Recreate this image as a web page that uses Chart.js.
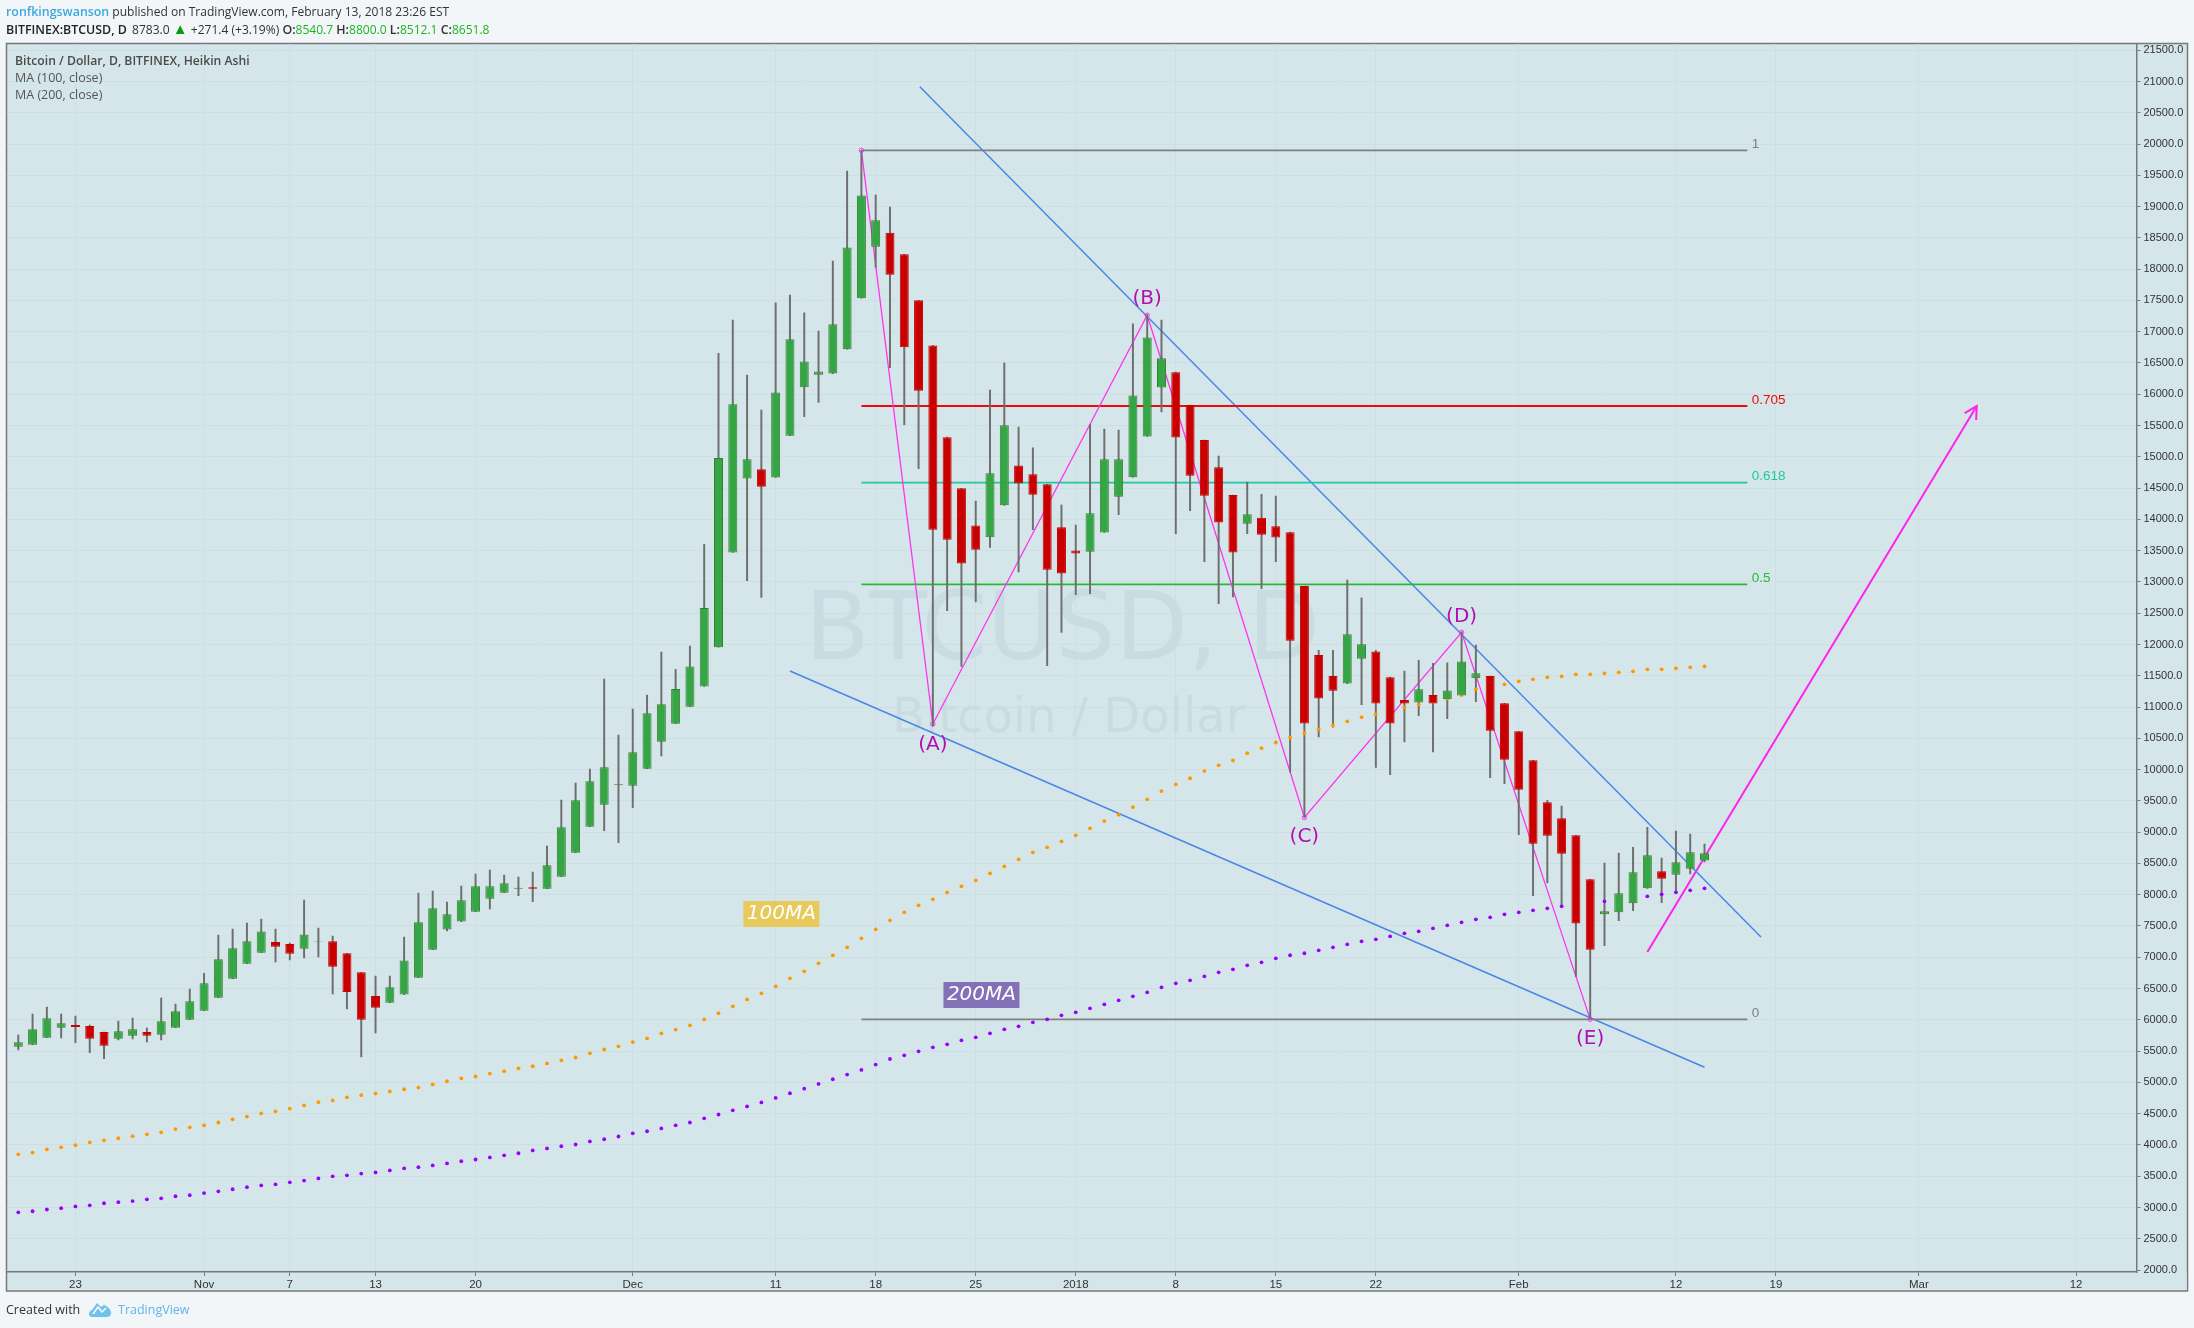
<!DOCTYPE html>
<html>
<head>
<meta charset="utf-8">
<title>BTCUSD</title>
<script src="https://cdn.jsdelivr.net/npm/chart.js@4/dist/chart.umd.js"></script>
<style>
  html, body { margin: 0; padding: 0; background: #f2f6f9; }
  body { width: 2194px; height: 1328px; position: relative; overflow: hidden; font-family: "Open Sans", sans-serif; }
  canvas { position: absolute; left: 0; top: 0; }
  .txt { position: absolute; white-space: pre; font-size: 12.05px; line-height: 16px; color: #333; }
  .up { color: #1fb51f; }
  b { font-weight: 600; font-size: 12.4px; }
</style>
</head>
<body>
<canvas id="chart" width="2194" height="1328"></canvas>

<div class="txt" style="left:6px;top:4px"><span style="color:#3ba9de;font-weight:600;font-size:12.4px">ronfkingswanson</span> published on TradingView.com, February 13, 2018 23:26 EST</div>
<div class="txt" style="left:6px;top:22px"><b style="color:#222">BITFINEX:BTCUSD, D</b> <span style="margin-left:2px">8783.0</span> <span style="color:#0a9a0a;font-size:15px;line-height:12px">▲</span> +271.4 (+3.19%) <b>O:</b><span class="up">8540.7</span> <b>H:</b><span class="up">8800.0</span> <b>L:</b><span class="up">8512.1</span> <b>C:</b><span class="up">8651.8</span></div>
<div class="txt" style="left:15px;top:53px;color:#4a4a4a;font-weight:600;font-size:12.2px">Bitcoin / Dollar, D, BITFINEX, Heikin Ashi</div>
<div class="txt" style="left:15px;top:70px;color:#555;font-size:12.5px">MA (100, close)</div>
<div class="txt" style="left:15px;top:87px;color:#555;font-size:12.5px">MA (200, close)</div>

<div class="txt" style="left:6px;top:1302px;color:#333;font-size:12.5px">Created with</div>
<svg style="position:absolute;left:88px;top:1302px" width="24" height="15" viewBox="0 0 24 15">
  <path d="M4 15 C0 15 0 9 4 8 L9 1 L13 5 L16 3 C20 4 24 9 23 12 C22 15 20 15 18 15 Z" fill="#6fc3ea"/>
  <path d="M5 12 L10 5 L14 10 L18 6" fill="none" stroke="#fff" stroke-width="1.4"/>
</svg>
<div class="txt" style="left:118px;top:1302px;color:#5db6e6;font-size:12.5px">TradingView</div>

<script>
// Daily Heikin Ashi candles, first one is 19 Oct 2017, last one is 14 Feb 2018
const opens = [5571,5603,5715,5875,5917,5901,5805,5699,5747,5805,5763,5875,6003,6146,6354,6658,6898,7073,7244,7212,
  7137,7249,7255,7063,6759,6381,6274,6403,6672,7122,7442,7570,7729,7937,8033,8097,8118,8097,8288,8672,
  9088,9439,9748,9743,10015,10446,10734,11006,11329,11957,13470,14652,14800,14669,15337,16114,16313,16330,16719,17535,
  18357,18580,18237,17501,16781,15314,14498,13904,13716,14224,14863,14721,14561,13875,13504,13481,13790,14361,14675,15325,
  16108,16353,15828,15268,14834,14389,13932,14024,13892,13795,12933,11832,11495,11375,11774,11889,11478,11112,11072,11192,
  11124,11186,11460,11495,11059,10612,10148,9477,9221,8949,8246,7687,7719,7863,8102,8374,8321,8417,8545];
const highs = [5757,6093,6205,6093,6061,5917,5805,5981,6029,5869,6349,6253,6493,6743,7356,7452,7548,7612,7452,7228,
  7915,7468,7340,7063,6759,6700,6700,7324,8028,8060,7884,8140,8331,8395,8315,8283,8363,8779,9514,9786,
  10010,11448,10553,10969,11192,11880,11603,11974,13602,16656,17187,16308,15748,17461,17586,17301,17010,18129,19567,19899,
  19185,18991,18237,17501,16781,15314,14498,14292,16068,16502,15474,15143,14561,14229,13910,15514,15445,15428,17124,17272,
  17187,16353,15828,15268,15011,14389,14595,14401,14372,13795,12933,11906,11906,13030,12745,11906,11478,11575,11746,11700,
  11706,12203,11991,11495,11059,10612,10148,9509,9418,8949,8246,8507,8667,8758,9077,8587,9019,8971,8811];
const lows = [5518,5603,5715,5709,5635,5475,5379,5678,5694,5646,5678,5875,6003,6146,6354,6658,6898,7073,6924,6956,
  6988,7004,6413,6173,5406,5789,6274,6403,6672,7122,7420,7570,7729,7772,8033,7985,7889,8097,8288,8672,
  9088,9024,8832,9392,10015,10217,10734,11006,11329,11957,13470,13019,12751,14669,15337,15640,15868,16330,16719,17535,
  18026,16427,15514,14812,10700,12540,11650,12682,13550,14224,13162,13836,11660,12191,12796,12814,13790,14075,14675,15325,
  15719,13773,14138,13322,12654,12762,13773,12893,13322,9959,9234,10524,10678,11375,11038,10033,9919,10444,10861,10284,
  10815,11186,11084,9873,9775,8960,7985,8188,7815,6690,6024,7186,7585,7745,8102,7873,8060,8331,8523];
const closes = [5640,5848,6024,5944,5885,5699,5587,5816,5848,5747,5976,6136,6296,6583,6967,7143,7255,7414,7169,7057,
  7366,7255,6850,6445,6003,6194,6519,6950,7559,7783,7687,7911,8134,8134,8182,8113,8097,8470,9077,9509,
  9812,10036,9765,10276,10899,11043,11289,11649,12585,14983,15839,14960,14521,16028,16879,16525,16365,17118,18346,19179,
  18780,17912,16753,16056,13836,13676,13293,13516,14738,15503,14572,14395,13196,13133,13453,14098,14960,14960,15982,16907,
  16576,15308,14697,14378,13950,13470,14081,13755,13710,12060,10735,11135,11261,12163,12003,11055,10735,11055,11283,11055,
  11266,11729,11540,10621,10159,9679,8816,8944,8656,7538,7122,7735,8022,8358,8630,8257,8518,8678,8662];

const ma100 = [3850,3878,3929,3962,3996,4040,4074,4107,4141,4169,4202,4253,4281,4314,4359,4409,4454,4504,4538,4582,
  4633,4683,4711,4761,4795,4822,4856,4890,4917,4968,5018,5063,5096,5141,5180,5225,5258,5303,5353,5398,
  5465,5526,5577,5644,5705,5783,5845,5912,6007,6107,6214,6327,6423,6535,6663,6775,6903,7031,7159,7303,
  7446,7590,7718,7830,7926,8038,8134,8230,8341,8453,8565,8677,8757,8853,8949,9061,9177,9280,9399,9525,
  9656,9765,9862,9976,10068,10147,10262,10342,10433,10513,10581,10644,10707,10770,10838,10884,10935,10995,11043,11086,
  11134,11192,11283,11326,11363,11411,11443,11475,11491,11523,11523,11539,11555,11571,11603,11603,11619,11635,11651];
const ma200 = [2923,2940,2968,2990,3018,3035,3068,3085,3102,3130,3146,3180,3197,3230,3258,3292,3325,3353,3370,3403,
  3431,3465,3498,3515,3543,3560,3593,3627,3644,3672,3705,3739,3767,3800,3834,3867,3912,3945,3979,4007,
  4057,4091,4135,4186,4219,4264,4314,4359,4426,4487,4554,4616,4680,4752,4826,4900,4975,5050,5125,5200,
  5285,5374,5432,5496,5560,5608,5672,5720,5784,5848,5896,5960,6008,6072,6120,6184,6248,6312,6376,6440,
  6520,6584,6632,6696,6760,6808,6872,6920,6984,7032,7064,7111,7159,7207,7255,7287,7335,7383,7415,7463,
  7511,7559,7607,7639,7687,7719,7751,7783,7815,7836,7862,7895,7921,7948,7974,8006,8038,8070,8102];

// axes
const priceTicks = [2000,2500,3000,3500,4000,4500,5000,5500,6000,6500,7000,7500,8000,8500,9000,9500,10000,10500,11000,
  11500,12000,12500,13000,13500,14000,14500,15000,15500,16000,16500,17000,17500,18000,18500,19000,19500,20000,20500,21000,21500];
const dayTicks = [4,13,19,25,32,43,53,60,67,74,81,88,95,105,116,123,133,144];
const dayLabels = ["23","Nov","7","13","20","Dec","11","18","25","2018","8","15","22","Feb","12","19","Mar","12"];

// drawings on the chart
const waveDays = [59,64,79,90,101,110];
const wavePrices = [19899,10730,17263,9234,12195,6008];
const waveNames = ["(A)","(B)","(C)","(D)","(E)"];
const waveNameDays = [64,79,90,101,110];
const waveNamePrices = [10393,17522,8922,12444,5698];

const fibNames = ["1","0.705","0.618","0.5","0"];
const fibLevels = [19899,15812,14589,12962,6008];
const fibColors = ["#808080","#f00a0a","#20c8a0","#22bb33","#808080"];
const fibDays = [59,121];

const upperTrendDays = [63.09,121.95];
const upperTrendPrices = [20915,7324];
const lowerTrendDays = [54,118];
const lowerTrendPrices = [11576,5241];
const arrowDays = [114,137.05];
const arrowPrices = [7084,15812];

const PANEL = "#d5e6ea";
const LINE = "#787878";
const GRID = "#cddfe3";
const WATERMARK = "#c8dce1";
const days = opens.map((v, i) => i);

function pts(xs, ys) {
    return xs.map((x, i) => ({ x: x, y: ys[i] }));
}

function straight(xs, ys, color, width) {
    return {
        type: "line",
        data: pts(xs, ys),
        borderColor: color,
        borderWidth: width,
        pointRadius: 0,
        tension: 0,
        order: 5,
    };
}

// Panel, watermark and the text that sits on the scales
const decorations = {
    id: "decorations",
    beforeDraw(c) {
        const g = c.ctx;
        g.save();
        g.fillStyle = PANEL;
        g.strokeStyle = LINE;
        g.lineWidth = 1.5;
        g.fillRect(6.5, 43.5, 2181, 1247.5);
        g.strokeRect(6.5, 43.5, 2181, 1247.5);
        g.restore();
    },
    beforeDatasetsDraw(c) {
        const g = c.ctx;
        g.save();
        g.fillStyle = WATERMARK;
        g.textBaseline = "alphabetic";
        g.textAlign = "left";
        g.font = '94px "DejaVu Sans"';
        g.fillText("BTCUSD, D", 805, 659);
        g.font = '48px "DejaVu Sans"';
        g.fillText("Bitcoin / Dollar", 892, 732);
        g.restore();
    },
    afterDatasetsDraw(c) {
        const g = c.ctx;
        const x = c.scales.x;
        const y = c.scales.y;
        g.save();

        // wave names
        g.fillStyle = "#b010b0";
        g.textAlign = "center";
        g.textBaseline = "middle";
        g.font = '20px "DejaVu Sans"';
        waveNames.forEach((n, i) => {
            g.fillText(n, x.getPixelForValue(waveNameDays[i]), y.getPixelForValue(waveNamePrices[i]));
        });

        // fib level names
        g.textAlign = "left";
        g.font = '13.5px "Liberation Sans"';
        fibNames.forEach((n, i) => {
            g.fillStyle = fibColors[i];
            g.fillText(n, x.getPixelForValue(121.3), y.getPixelForValue(fibLevels[i]) - 6);
        });

        // 100MA / 200MA tags
        tag(g, "100MA", "#e8c95c", x.getPixelForValue(53.4), y.getPixelForValue(7692));
        tag(g, "200MA", "#8370b7", x.getPixelForValue(67.4), y.getPixelForValue(6397));

        // arrow head
        const x0 = x.getPixelForValue(arrowDays[0]);
        const y0 = y.getPixelForValue(arrowPrices[0]);
        const x1 = x.getPixelForValue(arrowDays[1]);
        const y1 = y.getPixelForValue(arrowPrices[1]);
        const a = Math.atan2(y1 - y0, x1 - x0);
        g.strokeStyle = "#ff22ee";
        g.lineWidth = 2;
        g.beginPath();
        g.moveTo(x1 - 14 * Math.cos(a - 0.5), y1 - 14 * Math.sin(a - 0.5));
        g.lineTo(x1, y1);
        g.lineTo(x1 - 14 * Math.cos(a + 0.5), y1 - 14 * Math.sin(a + 0.5));
        g.stroke();
        g.restore();
    },
    afterDraw(c) {
        // the lowest price label is cut off by the time axis
        const g = c.ctx;
        g.fillStyle = PANEL;
        g.fillRect(2137.5, 1273, 49.3, 17);
    },
};

function tag(g, text, color, cx, cy) {
    g.fillStyle = color;
    g.fillRect(cx - 38, cy - 13, 76, 26);
    g.fillStyle = "#ffffff";
    g.textAlign = "center";
    g.textBaseline = "middle";
    g.font = 'italic 20px "DejaVu Sans"';
    g.fillText(text, cx, cy);
}

const fibLines = fibLevels.map((lv, i) => straight(fibDays, [lv, lv], fibColors[i], 1.8));

new Chart(document.querySelector("#chart").getContext("2d"), {
    data: {
        datasets: [
            ...fibLines,
            straight(upperTrendDays, upperTrendPrices, "#4a86e8", 1.5),
            straight(lowerTrendDays, lowerTrendPrices, "#4a86e8", 1.5),
            straight(arrowDays, arrowPrices, "#ff22ee", 2),
            {
                type: "line",
                data: pts(waveDays, wavePrices),
                borderColor: "#ff33f0",
                borderWidth: 1.3,
                tension: 0,
                pointRadius: 2.2,
                pointBorderWidth: 1,
                pointBorderColor: "#ff33f0",
                pointBackgroundColor: "rgba(0,0,0,0)",
                order: 4,
            },
            // wicks
            {
                type: "bar",
                data: days.map(i => ({ x: i, y: [lows[i], highs[i]] })),
                backgroundColor: "#6e6e6e",
                borderWidth: 0,
                barThickness: 1.3,
                grouped: false,
                order: 3,
            },
            {
                type: "line",
                data: pts(days, ma100),
                showLine: false,
                pointRadius: 1.9,
                pointBorderWidth: 0,
                pointBackgroundColor: "#ff9800",
                order: 2,
            },
            {
                type: "line",
                data: pts(days, ma200),
                showLine: false,
                pointRadius: 1.9,
                pointBorderWidth: 0,
                pointBackgroundColor: "#9900ff",
                order: 2,
            },
            // bodies
            {
                type: "bar",
                data: days.map(i => ({ x: i, y: [Math.min(opens[i], closes[i]), Math.max(opens[i], closes[i])] })),
                backgroundColor: days.map(i => closes[i] >= opens[i] ? "#35a645" : "#c90000"),
                borderColor: days.map(i => closes[i] >= opens[i] ? "#3c7f2b" : "#c90000"),
                borderWidth: 1,
                borderSkipped: false,
                inflateAmount: 0,
                barThickness: 9,
                grouped: false,
                order: 1,
            },
        ],
    },
    plugins: [decorations],
    options: {
        responsive: false,
        devicePixelRatio: 1,
        animation: false,
        parsing: { xAxisKey: "x", yAxisKey: "y" },
        layout: { padding: { left: 7, top: 44, right: 6.5, bottom: 37 } },
        plugins: { legend: { display: false }, tooltip: { enabled: false } },
        scales: {
            x: {
                type: "linear",
                min: -0.79,
                max: 148.23,
                offset: false,
                afterBuildTicks(s) { s.ticks = dayTicks.map(v => ({ value: v })); },
                afterFit(s) { s.height = 19; },
                grid: { offset: false, color: GRID, tickColor: LINE, tickLength: 4, lineWidth: 1 },
                border: { color: LINE, width: 1.5 },
                ticks: {
                    autoSkip: false,
                    maxRotation: 0,
                    padding: 2,
                    color: "#333",
                    font: { family: "Liberation Sans", size: 11.5 },
                    callback(v) { return dayLabels[dayTicks.indexOf(v)]; },
                },
            },
            y: {
                type: "linear",
                position: "right",
                min: 1969,
                max: 21599,
                afterBuildTicks(s) { s.ticks = priceTicks.map(v => ({ value: v })); },
                afterFit(s) { s.width = 51; },
                grid: { color: GRID, tickColor: LINE, tickLength: 4, lineWidth: 1 },
                border: { color: LINE, width: 1.5 },
                ticks: {
                    autoSkip: false,
                    padding: 3,
                    color: "#333",
                    font: { family: "Liberation Sans", size: 11 },
                    callback(v) { return v.toFixed(1); },
                },
            },
        },
    },
});
</script>
</body>
</html>
